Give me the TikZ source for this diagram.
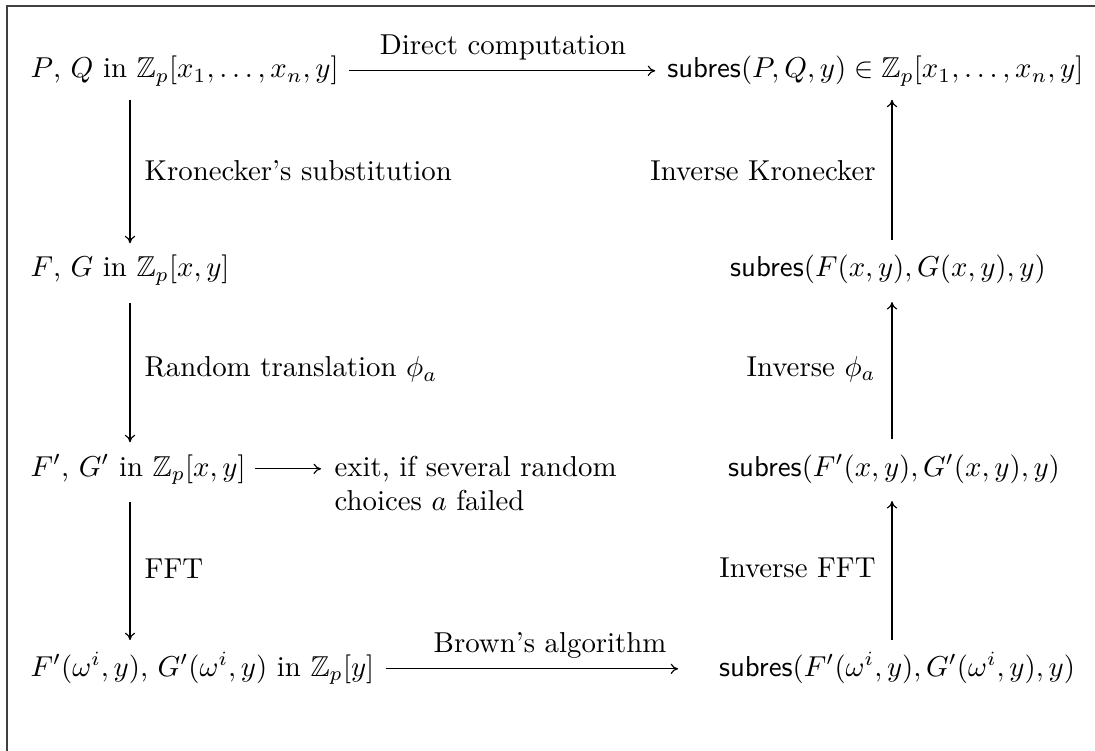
\documentclass[tikz,border=0pt]{standalone}
\usepackage{amssymb}
\usetikzlibrary{arrows.meta}
\begin{document}
\begin{tikzpicture}[x=0.3472pt,y=-0.3472pt,
  ent/.style={inner sep=0pt},
  lbl/.style={inner sep=0pt},
  arr/.style={-{To[length=2.6pt,width=3.6pt]}, line width=0.4pt},
  frame/.style={line width=0.6pt, black!75}]
\useasboundingbox (0,0) rectangle (1095,751);
\draw[frame] (7,751) -- (7,6) -- (1095,6);
\coordinate (cL) at (130,0);
\coordinate (cR) at (892,0);
% left column
\node[ent, anchor=base west] (l1) at (30,78) {$P$, $Q$ in $\mathbb{Z}_p[x_1,\ldots,x_n,y]$};
\node[ent, anchor=base west] (l2) at (30,277) {$F$, $G$ in $\mathbb{Z}_p[x,y]$};
\node[ent, anchor=base west] (l3) at (30,476) {$F'$, $G'$ in $\mathbb{Z}_p[x,y]$};
\node[ent, anchor=base west] (l4) at (30,676) {$F'(\omega^i,y)$, $G'(\omega^i,y)$ in $\mathbb{Z}_p[y]$};
% right column
\node[ent, anchor=base east] (r1) at (1084,78) {$\mathsf{subres}(P,Q,y)\in\mathbb{Z}_p[x_1,\ldots,x_n,y]$};
\node[ent, anchor=base] (r2) at (888,277) {$\mathsf{subres}(F(x,y),G(x,y),y)$};
\node[ent, anchor=base] (r3) at (894,476) {$\mathsf{subres}(F'(x,y),G'(x,y),y)$};
\node[ent, anchor=base] (r4) at (897,676) {$\mathsf{subres}(F'(\omega^i,y),G'(\omega^i,y),y)$};
% exit
\node[ent, anchor=base west] (ex) at (334,476) {\begin{tabular}[t]{@{}l@{}}exit, if several random\\ choices $a$ failed\end{tabular}};
% horizontal arrows
\draw[arr, shorten <=3.5pt, shorten >=4pt] ([yshift=2.5pt]l1.base east) -- ([yshift=2.5pt]r1.base west)
  node[lbl, pos=0.5, anchor=base, yshift=5.5pt] {Direct computation};
\draw[arr, shorten <=3.8pt, shorten >=14pt] ([yshift=2.5pt]l4.base east) -- ([yshift=2.5pt]r4.base west)
  node[lbl, pos=0.51, anchor=base, yshift=5.5pt] {Brown's algorithm};
\draw[arr, shorten <=3pt, shorten >=4.5pt] ([yshift=2.5pt]l3.base east) -- ([yshift=2.5pt]ex.base west);
% left vertical arrows
\draw[arr, shorten <=4.5pt, shorten >=4pt] (l1.south -| cL) -- (l2.north -| cL)
  node[lbl, midway, right=4.9pt] {Kronecker's substitution};
\draw[arr, shorten <=6pt, shorten >=4pt] (l2.south -| cL) -- (l3.north -| cL)
  node[lbl, midway, right=4.9pt] {Random translation $\phi_a$};
\draw[arr, shorten <=6pt, shorten >=4pt] (l3.south -| cL) -- (l4.north -| cL)
  node[lbl, midway, right=4.9pt] {FFT};
% right vertical arrows
\draw[arr, shorten <=5pt, shorten >=4.5pt] (r2.north -| cR) -- (r1.south -| cR)
  node[lbl, midway, left=5.5pt] {Inverse Kronecker};
\draw[arr, shorten <=5pt, shorten >=6pt] (r3.north -| cR) -- (r2.south -| cR)
  node[lbl, midway, left=5.5pt] {Inverse $\phi_a$};
\draw[arr, shorten <=4pt, shorten >=6pt] (r4.north -| cR) -- (r3.south -| cR)
  node[lbl, midway, left=5.5pt] {Inverse FFT};
\end{tikzpicture}
\end{document}
